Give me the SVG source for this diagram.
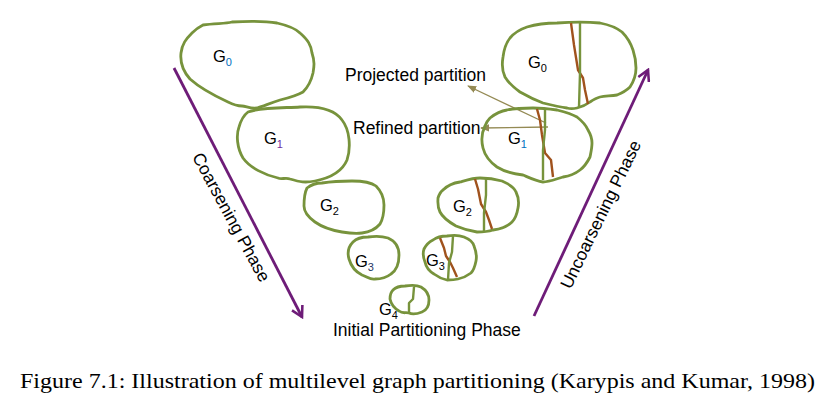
<svg xmlns="http://www.w3.org/2000/svg" width="835" height="411" viewBox="0 0 835 411">
<style>
.blob{fill:none;stroke:#77933C;stroke-width:2.8;stroke-linejoin:round}
.cut{fill:none;stroke:#77933C;stroke-width:2.4;stroke-linejoin:round}
.ref{fill:none;stroke:#A0521D;stroke-width:2.4;stroke-linejoin:round}
.g{font-family:"Liberation Sans",Arial,sans-serif;font-size:16.5px;fill:#000}
.sub{font-size:11px}
.lbl{font-family:"Liberation Sans",Arial,sans-serif;font-size:17.5px;fill:#000}
.phase{stroke:#6E1C78;stroke-width:2.8;fill:none}
.tan{stroke:#948A54;stroke-width:1.3;fill:none}
.cap{font-family:"Liberation Serif","Times New Roman",serif;font-size:21px;fill:#000}
</style>
<defs>
<marker id="chev" markerUnits="userSpaceOnUse" viewBox="0 0 12 12" refX="10" refY="6" markerWidth="14" markerHeight="14" orient="auto">
<path d="M1,1 L10,6 L1,11" fill="none" stroke="#6E1C78" stroke-width="2.2"/>
</marker>
<marker id="tri" markerUnits="userSpaceOnUse" viewBox="0 0 10 10" refX="9" refY="5" markerWidth="9" markerHeight="9" orient="auto">
<path d="M0,1 L10,5 L0,9 Z" fill="#948A54"/>
</marker>
</defs>

<g id="connectors">
<line class="phase" x1="174" y1="68" x2="302" y2="317" marker-end="url(#chev)"/>
<line class="phase" x1="534" y1="316" x2="648" y2="70" marker-end="url(#chev)"/>
<line class="tan" x1="546" y1="123" x2="468" y2="86" marker-end="url(#tri)"/>
<line class="tan" x1="548" y1="127" x2="481" y2="128" marker-end="url(#tri)"/>
</g>

<g id="G0-left">
<path class="blob" d="M203,25 C215,23 225,24 232,22 C250,21 265,21 277,23 C290,26 296,29 300,33 C308,40 311,45 312,53 C315,62 314,67 313,73 C311,82 308,87 303,92 C296,96 288,98 280,100 C270,103 264,106 257,108 C250,109 246,106 242,106 C236,106 232,104 228,102 C215,96 200,88 190,79 C182,70 180,62 181,53 C182,44 186,39 192,33 C196,29 199,27 203,25 Z"/>
<text class="g" x="213" y="62">G<tspan class="sub" dy="4" fill="#0070C0">0</tspan></text>
</g>

<g id="G1-left">
<path class="blob" d="M248,112 C262,107 285,108 300,107 C320,106 335,110 342,120 C350,130 351,148 347,160 C342,172 330,178 315,181 C305,183 300,182 290,179 C285,177 282,180 278,178 C265,175 250,168 243,158 C237,148 236,135 239,127 C241,120 244,115 248,112 Z"/>
<text class="g" x="264" y="144">G<tspan class="sub" dy="4" fill="#7030A0">1</tspan></text>
</g>

<g id="G2-left">
<path class="blob" d="M307,188 C312,184 318,183 322,183 C335,181 345,181 352,181 C364,181 372,183 376,186 C382,192 384,198 384,205 C384,213 383,219 380,224 C375,230 370,232 362,233 C355,234 348,233 342,232 C330,230 322,227 315,222 C308,217 304,212 304,206 C304,199 305,192 307,188 Z"/>
<text class="g" x="320" y="211">G<tspan class="sub" dy="4">2</tspan></text>
</g>

<g id="G3-left">
<path class="blob" d="M353,242 C357,238 362,237 368,237 C375,236 382,236 388,238 C395,241 399,247 399,255 C399,263 397,270 391,274 C386,278 380,279 375,279 C370,280 368,277 362,275 C356,272 351,266 349,259 C347,252 349,246 353,242 Z"/>
<text class="g" x="355" y="267">G<tspan class="sub" dy="4" fill="#1F3864">3</tspan></text>
</g>

<g id="G4">
<path class="blob" d="M393,290 C396,287 400,286 405,286 C411,285 417,285 421,287 C426,290 429,295 429,300 C429,306 427,310 422,312 C417,314 413,315 409,313 C405,312 403,314 399,311 C394,308 391,304 390,299 C390,295 391,292 393,290 Z"/>
<path class="cut" d="M414,287 L413,299 L409,303 L409,314"/>
<text class="g" x="379" y="315">G<tspan class="sub" dy="4">4</tspan></text>
</g>

<g id="G3-right">
<path class="blob" d="M433,240 C437,237 442,236 447,236 C453,235 459,235 464,237 C469,239 473,242 474,246 C476,251 477,256 476,261 C475,266 474,270 471,273 C467,276 463,278 458,279 C454,280 451,280 447,280 C442,279 438,277 434,274 C429,271 426,267 425,262 C423,257 423,252 424,249 C426,245 429,242 433,240 Z"/>
<path class="ref" d="M440,238 L444,248 L446,256 L450,262 L453,268 L457,277"/>
<path class="cut" d="M453,236 L452,252 L449,263 L448,280"/>
<text class="g" x="426" y="266">G<tspan class="sub" dy="4">3</tspan></text>
</g>

<g id="G2-right">
<path class="blob" d="M443,190 C448,185 453,183 460,182 C467,180 473,178 480,178 C488,178 495,179 502,181 C509,184 514,187 516,192 C519,198 519,203 518,208 C517,214 516,218 512,222 C507,227 500,229 493,230 C487,232 482,232 477,232 C470,231 463,229 456,226 C449,222 443,218 440,212 C437,206 438,201 438,198 C439,195 440,192 443,190 Z"/>
<path class="ref" d="M475,179 L478,189 L481,204 L486,212 L489,220 L492,229"/>
<path class="cut" d="M486,178 L486,195 L484,213 L484,232"/>
<text class="g" x="453" y="212">G<tspan class="sub" dy="4">2</tspan></text>
</g>

<g id="G1-right">
<path class="blob" d="M490,118 C495,114 500,111 507,110 C516,108 525,108 533,108 C542,108 550,109 557,110 C565,112 572,114 577,117 C582,121 586,125 588,130 C591,135 592,139 592,143 C592,148 591,152 590,157 C587,163 584,167 580,170 C575,174 569,176 563,177 C556,179 549,182 543,182 C536,181 530,178 523,175 C514,174 505,172 497,167 C490,162 485,156 483,148 C481,140 482,132 485,126 C486,123 488,120 490,118 Z"/>
<path class="ref" d="M537,109 L540,120 L542,135 L545,153 L551,160 L553,177"/>
<path class="cut" d="M545,110 L545,130 L543,150 L543,180"/>
<text class="g" x="508" y="144">G<tspan class="sub" dy="4" fill="#0070C0">1</tspan></text>
</g>

<g id="G0-right">
<path class="blob" d="M510,38 C515,32 521,29 527,27 C537,24 547,23 557,23 C572,22 588,22 600,23 C610,25 617,28 622,32 C628,38 631,44 633,50 C635,56 636,62 636,68 C636,75 634,81 630,87 C626,91 622,93 617,95 C611,96 605,96 600,97 C596,98 593,100 590,102 C586,105 581,107 577,108 C573,109 570,109 567,108 C559,107 551,105 543,103 C535,100 527,96 520,92 C513,87 508,82 505,77 C502,71 502,63 503,57 C504,49 506,43 510,38 Z"/>
<path class="ref" d="M571,23 L574,45 L578,70 L583,78 L585,90 L588,104"/>
<path class="cut" d="M580,23 L580,50 L580,73 L579,107"/>
<text class="g" x="528" y="68">G<tspan class="sub" dy="4">0</tspan></text>
</g>

<g id="labels">
<text class="lbl" x="345" y="81">Projected partition</text>
<text class="lbl" x="353" y="134">Refined partition</text>
<text class="lbl" x="333" y="336">Initial Partitioning Phase</text>
<text class="lbl" text-anchor="middle" transform="translate(226,220) rotate(61.5)">Coarsening Phase</text>
<text class="lbl" text-anchor="middle" transform="translate(606,217) rotate(-64)">Uncoarsening Phase</text>
</g>

<text class="cap" x="20" y="388" textLength="795" lengthAdjust="spacingAndGlyphs">Figure 7.1: Illustration of multilevel graph partitioning (Karypis and Kumar, 1998)</text>
</svg>
